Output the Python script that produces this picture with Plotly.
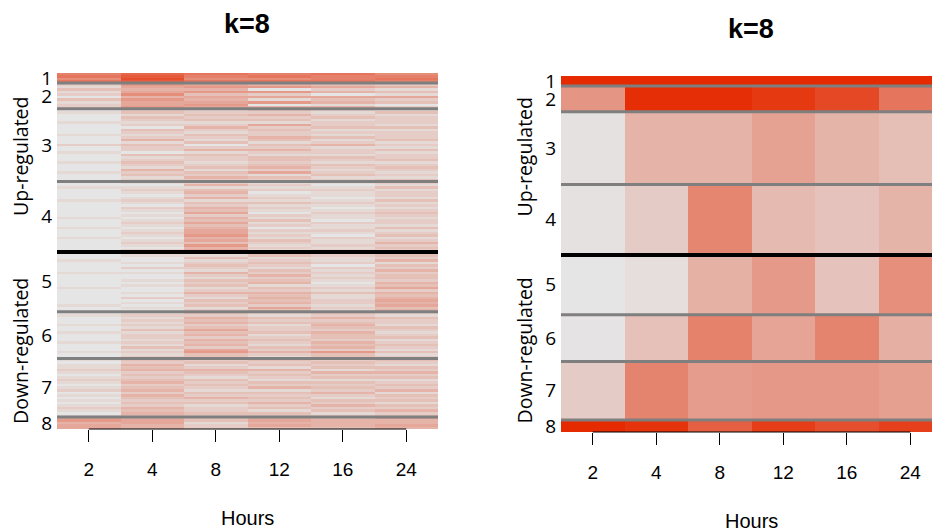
import numpy as np
import plotly.graph_objects as go

# ---------------- data ----------------
hours = ["2", "4", "8", "12", "16", "24"]
cluster_labels = ["1", "2", "3", "4", "5", "6", "7", "8"]
cluster_sizes = [10, 26, 73, 71, 60, 47, 59, 12]   # genes per cluster (1-4 up, 5-8 down)

# right panel: cluster mean expression (0..1 scale)
mean_c1 = [1.00, 1.00, 1.00, 1.00, 1.00, 1.00]
mean_c2 = [0.43, 0.98, 0.98, 0.92, 0.84, 0.60]
mean_c3 = [0.02, 0.27, 0.27, 0.36, 0.26, 0.21]
mean_c4 = [0.02, 0.14, 0.51, 0.23, 0.18, 0.26]
mean_c5 = [0.00, 0.04, 0.28, 0.40, 0.18, 0.46]
mean_c6 = [0.01, 0.19, 0.53, 0.35, 0.52, 0.29]
mean_c7 = [0.14, 0.52, 0.39, 0.41, 0.41, 0.37]
mean_c8 = [1.00, 0.95, 0.71, 0.90, 0.80, 0.88]
cluster_means = [mean_c1, mean_c2, mean_c3, mean_c4, mean_c5, mean_c6, mean_c7, mean_c8]

# left panel: per-gene levels (hex digit 0..f), one string per hour column, rows top->bottom
genes_c1 = ["8979", "abcb", "9879", "8979", "9889", "7898"]
genes_c2 = ["2131203122", "6545746556", "5646354565", "4606251604", "3524053414", "2413152302"]
genes_c3 = ["0100010000" "1000200100" "010001000",
            "2313212032" "1241322031" "232142312",
            "1232312421" "3213024132" "212313242",
            "3242315232" "2431324213" "323425132",
            "2123122312" "1312412213" "213212312",
            "1312221312" "2231213122" "312321213"]
genes_c4 = ["0010000100" "0000100010" "00100000",
            "1012101210" "2101012101" "21012102",
            "2413424132" "4352435345" "56453645",
            "1212012131" "2102131202" "12132121",
            "1012110121" "0121102112" "10211212",
            "2131221312" "1232122131" "23124232"]
genes_c5 = ["0001000010" "0000100000" "0100",
            "0100102010" "0101001020" "1010",
            "2131232142" "1323124213" "2312",
            "2312321324" "2341324343" "4253",
            "1211202121" "2101213112" "2121",
            "2324132423" "3243524345" "4534"]
genes_c6 = ["0100010010" "001000100",
            "1212121312" "212131212",
            "3243423534" "243425633",
            "2132312231" "232132421",
            "3242343243" "324342633",
            "2132213212" "312321312"]
genes_c7 = ["1011210121" "0120101012" "101",
            "3243423234" "2342432324" "343",
            "2312432132" "3213242312" "232",
            "3231423213" "2413232423" "132",
            "2323142313" "2324213242" "312",
            "3213242312" "3241323132" "423"]
genes_c8 = ["56455", "45544", "23122", "45453", "34443", "54454"]
gene_strings = [genes_c1, genes_c2, genes_c3, genes_c4, genes_c5, genes_c6, genes_c7, genes_c8]

# ---------------- build ----------------
W, H = 932, 531
scale = [[0, "#E5E5E5"], [1, "#E52A00"]]
bounds = np.concatenate([[0], np.cumsum(cluster_sizes)]).astype(float)
total = bounds[-1]
centers = [(bounds[i] + bounds[i + 1]) / 2 for i in range(len(cluster_sizes))]

z_left, y_left = [], [0.0]
for k, cols in enumerate(gene_strings):
    n = min(len(s) for s in cols)
    edges = np.linspace(bounds[k], bounds[k + 1], n + 1)[1:]
    for r in range(n):
        z_left.append([int(s[r], 16) for s in cols])
    y_left.extend(edges.tolist())

xs = list(range(len(hours)))

fig = go.Figure()
fig.add_trace(go.Heatmap(z=z_left, x=xs, y=y_left, colorscale=scale, zmin=0, zmax=15,
                         showscale=False, hoverinfo="skip", xaxis="x", yaxis="y"))
fig.add_trace(go.Heatmap(z=cluster_means, x=xs, y=bounds.tolist(), colorscale=scale, zmin=0, zmax=1,
                         showscale=False, hoverinfo="skip", xaxis="x2", yaxis="y2"))

def px_y(top, bottom):
    return [(H - bottom) / H, (H - top) / H]

xfont = dict(family="Liberation Sans, Arial, sans-serif", size=19, color="black")
yfont = dict(family="Open Sans, sans-serif", size=19, color="black")

common_x = dict(tickvals=xs, ticktext=hours, ticks="outside", ticklen=12, tickcolor="black",
                tickwidth=1, showgrid=False, zeroline=False, showline=False, tickfont=xfont,
                ticklabelstandoff=11, automargin=False)
common_y = dict(range=[total, 0], tickvals=centers, ticktext=cluster_labels, ticks="",
                showgrid=False, zeroline=False, showline=False, tickfont=yfont,
                ticklabelstandoff=4, automargin=False)

fig.update_layout(
    width=W, height=H, autosize=False,
    margin=dict(l=0, r=0, t=0, b=0, pad=0),
    paper_bgcolor="white", plot_bgcolor="white",
    showlegend=False,
    xaxis=dict(domain=[57 / W, 438 / W], range=[-0.5, 5.5], anchor="y", **common_x),
    yaxis=dict(domain=px_y(73, 429), anchor="x", **common_y),
    xaxis2=dict(domain=[561 / W, 1.0], range=[-0.5, -0.5 + 371 / 63.5], anchor="y2", **common_x),
    yaxis2=dict(domain=px_y(76, 432), anchor="x2", **common_y),
)

shapes = []
for xr, yr in (("x", "y"), ("x2", "y2")):
    for i, b in enumerate(bounds[1:-1], start=1):
        thick = (i == 4)
        shapes.append(dict(type="line", xref=xr, yref=yr, x0=-0.5, x1=5.5, y0=b, y1=b,
                           line=dict(color="black" if thick else "#7f7f7f", width=4 if thick else 3)))
    shapes.append(dict(type="line", xref=xr, yref=yr + " domain", x0=0, x1=5, y0=0, y1=0,
                       line=dict(color="black", width=1)))
fig.update_layout(shapes=shapes)

annos = []
def add_text(text, x, y, size, bold=False, angle=0, family="Liberation Sans, Arial, sans-serif"):
    annos.append(dict(text=f"<b>{text}</b>" if bold else text, xref="paper", yref="paper",
                      x=x / W, y=(H - y) / H, xanchor="center", yanchor="middle",
                      showarrow=False, textangle=angle,
                      font=dict(family=family, size=size, color="black")))

add_text("k=8", 247, 24, 27, bold=True)
add_text("k=8", 751, 29, 27, bold=True)
add_text("Hours", 247.5, 518, 20)
add_text("Hours", 751.5, 521, 20)
for xc in (20, 523.5):
    add_text("Up-regulated", xc, 157, 19.5, angle=-90, family="Open Sans, sans-serif")
    add_text("Down-regulated", xc, 351, 19.5, angle=-90, family="Open Sans, sans-serif")
fig.update_layout(annotations=annos)

fig.write_html("out.html", config={"displayModeBar": False},
               post_script="document.body.style.margin='0';document.body.style.overflow='hidden';")
